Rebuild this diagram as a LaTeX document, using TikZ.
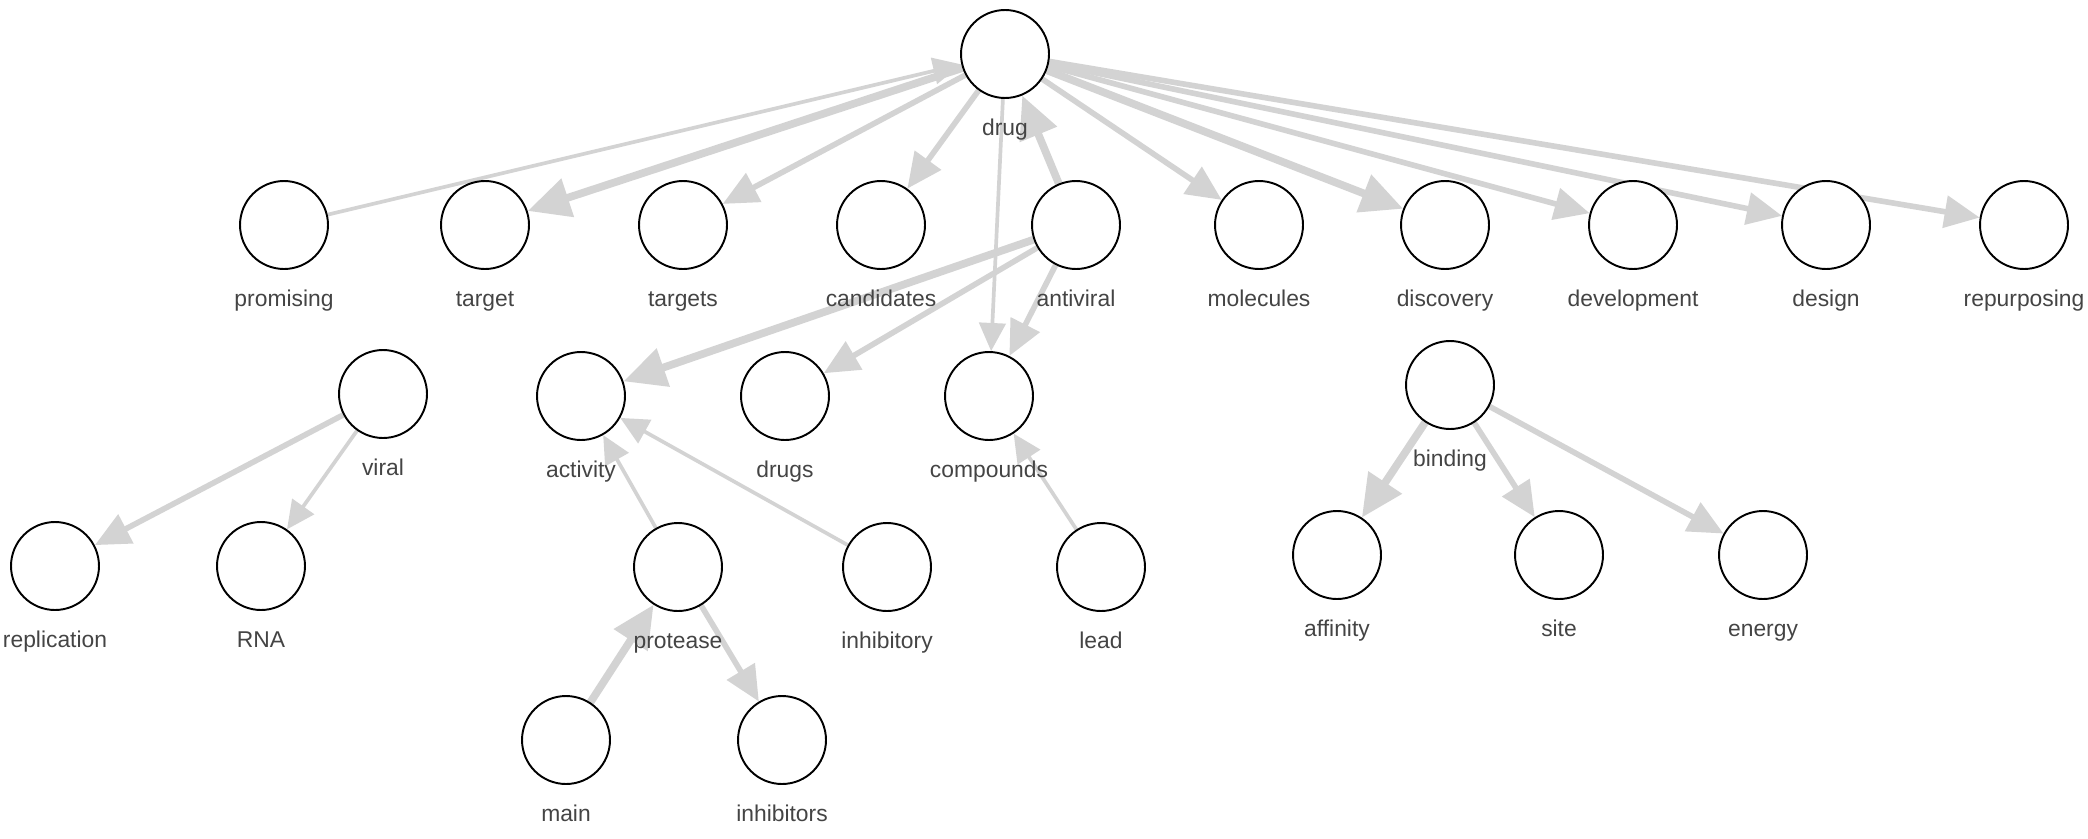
\documentclass[tikz,border=0pt]{standalone}
\usepackage{fontspec}
\setmainfont{Liberation Sans}
\usepackage{xcolor}
\definecolor{netedge}{HTML}{D3D3D3}
\definecolor{nettext}{HTML}{444444}
\usetikzlibrary{arrows.meta,positioning,backgrounds}
\tikzset{
  netnode/.style={circle,draw=black,line width=1.1pt,fill=white,minimum size=1.76cm,inner sep=0pt},
  netlabel/.style={font=\fontsize{13}{15}\selectfont,text=nettext,inner sep=0pt,text height=0.75em,text depth=0.25em,label distance=0.46cm},
  thinlink/.style={draw=netedge,line width=2.1pt,-{Triangle[length=16pt,width=15pt]}},
  midlink/.style={draw=netedge,line width=3.2pt,-{Triangle[length=20pt,width=18pt]}},
  widelink/.style={draw=netedge,line width=4.4pt,-{Triangle[length=24pt,width=22pt]}},
}
\newcommand{\wordnode}[3]{\node[netnode,label={[netlabel]below:#3}] (#1) at (#2) {};}

\begin{document}
\begin{tikzpicture}[x=0.02cm,y=-0.02cm]
\useasboundingbox (0,0) rectangle (2088,838);

% root
\wordnode{drug}{1005,54}{drug}
% first row
\wordnode{promising}{284,225}{promising}
\wordnode{target}{485,225}{target}
\wordnode{targets}{683,225}{targets}
\wordnode{candidates}{881,225}{candidates}
\wordnode{antiviral}{1076,225}{antiviral}
\wordnode{molecules}{1259,225}{molecules}
\wordnode{discovery}{1445,225}{discovery}
\wordnode{development}{1633,225}{development}
\wordnode{design}{1826,225}{design}
\wordnode{repurposing}{2024,225}{repurposing}
% second row
\wordnode{viral}{383,394}{viral}
\wordnode{activity}{581,396}{activity}
\wordnode{drugs}{785,396}{drugs}
\wordnode{compounds}{989,396}{compounds}
\wordnode{binding}{1450,385}{binding}
% third row
\wordnode{replication}{55,566}{replication}
\wordnode{RNA}{261,566}{RNA}
\wordnode{protease}{678,567}{protease}
\wordnode{inhibitory}{887,567}{inhibitory}
\wordnode{lead}{1101,567}{lead}
\wordnode{affinity}{1337,555}{affinity}
\wordnode{site}{1559,555}{site}
\wordnode{energy}{1763,555}{energy}
% fourth row
\wordnode{main}{566,740}{main}
\wordnode{inhibitors}{782,740}{inhibitors}

\begin{scope}[on background layer]
\draw[thinlink] (promising) -- (drug);
\draw[widelink] (drug) -- (target);
\draw[midlink] (drug) -- (targets);
\draw[midlink] (drug) -- (candidates);
\draw[thinlink] (drug) -- (compounds);
\draw[widelink] (antiviral) -- (drug);
\draw[midlink] (drug) -- (molecules);
\draw[widelink] (drug) -- (discovery);
\draw[midlink] (drug) -- (development);
\draw[midlink] (drug) -- (design);
\draw[midlink] (drug) -- (repurposing);
\draw[widelink] (antiviral) -- (activity);
\draw[midlink] (antiviral) -- (drugs);
\draw[midlink] (antiviral) -- (compounds);
\draw[midlink] (viral) -- (replication);
\draw[thinlink] (viral) -- (RNA);
\draw[thinlink] (protease) -- (activity);
\draw[thinlink] (inhibitory) -- (activity);
\draw[widelink] (main) -- (protease);
\draw[midlink] (protease) -- (inhibitors);
\draw[thinlink] (lead) -- (compounds);
\draw[widelink] (binding) -- (affinity);
\draw[midlink] (binding) -- (site);
\draw[midlink] (binding) -- (energy);
\end{scope}
\end{tikzpicture}
\end{document}
